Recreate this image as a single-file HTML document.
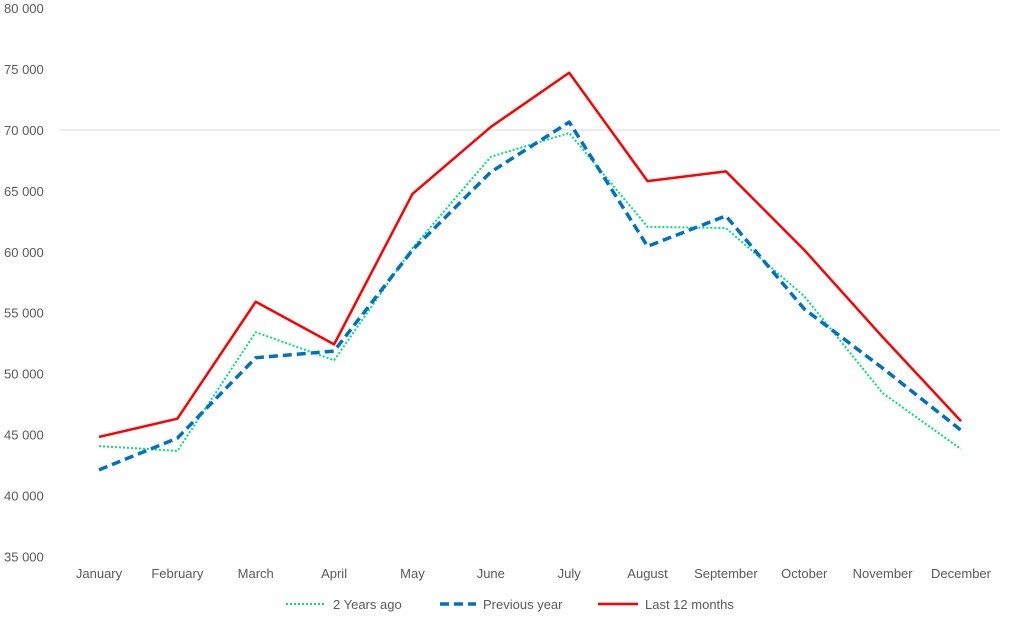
<!DOCTYPE html>
<html><head><meta charset="utf-8"><style>
body{margin:0;background:#fff;font-family:"Liberation Sans",sans-serif}
text{fill:#595959;font-size:13px}
</style></head><body>
<svg id="chart" width="1024" height="628" xmlns="http://www.w3.org/2000/svg">
<line x1="60" x2="1000" y1="130" y2="130" stroke="#d9d9d9" stroke-width="1"/>
<g id="yaxis"></g>
<g id="xaxis"></g>
<g id="series"></g>
<g>
<g><line x1="286" x2="326" y1="604" y2="604" stroke="#00e07a" stroke-width="2" stroke-dasharray="2,2"/><text x="333" y="609">2 Years ago</text></g>
<g><line x1="440" x2="476" y1="604" y2="604" stroke="#0070c0" stroke-width="3.5" stroke-dasharray="9,5"/><text x="483" y="609">Previous year</text></g>
<g><line x1="598" x2="638" y1="604" y2="604" stroke="#ff0000" stroke-width="2.5"/><text x="645" y="609">Last 12 months</text></g>
</g>
</svg>
<script>
const months=["January","February","March","April","May","June","July","August","September","October","November","December"];
const yTicks=[35000,40000,45000,50000,55000,60000,65000,70000,75000,80000];
const twoYearsAgo=[44050,43650,53400,51100,60300,67800,69750,62050,61950,56350,48400,43800];
const previousYear=[42100,44700,51300,51850,60150,66550,70650,60450,62950,55300,50450,45350];
const last12Months=[44800,46300,55900,52400,64750,70250,74700,65800,66600,60150,53000,46100];
const NS="http://www.w3.org/2000/svg";
const x=i=>99+i*(961-99)/11;
const y=v=>130+(70000-v)/5000*60.9;
const ya=document.getElementById('yaxis'),xa=document.getElementById('xaxis'),sg=document.getElementById('series');
yTicks.forEach(t=>{const e=document.createElementNS(NS,'text');


e.setAttribute('x',4);e.setAttribute('y',y(t)+5);e.textContent=String(t).replace(/(\d+)(\d{3})$/,'$1 $2');ya.appendChild(e);});
months.forEach((m,i)=>{const e=document.createElementNS(NS,'text');


e.setAttribute('x',x(i));e.setAttribute('y',578);e.setAttribute('text-anchor','middle');e.textContent=m;xa.appendChild(e);});
function line(data,name,color,w,dash){const p=document.createElementNS(NS,'polyline');


p.setAttribute('points',data.map((v,i)=>x(i)+','+y(v)).join(' '));
p.setAttribute('fill','none');p.setAttribute('stroke',color);p.setAttribute('stroke-width',w);
if(dash)p.setAttribute('stroke-dasharray',dash);p.setAttribute('stroke-linejoin','round');sg.appendChild(p);}
line(twoYearsAgo,'series-2-years-ago','#00e07a',2,'2,2');
line(previousYear,'series-previous-year','#0070c0',3.5,'9,5');
line(last12Months,'series-last-12-months','#ff0000',2.5,null);
</script>
</body></html>
